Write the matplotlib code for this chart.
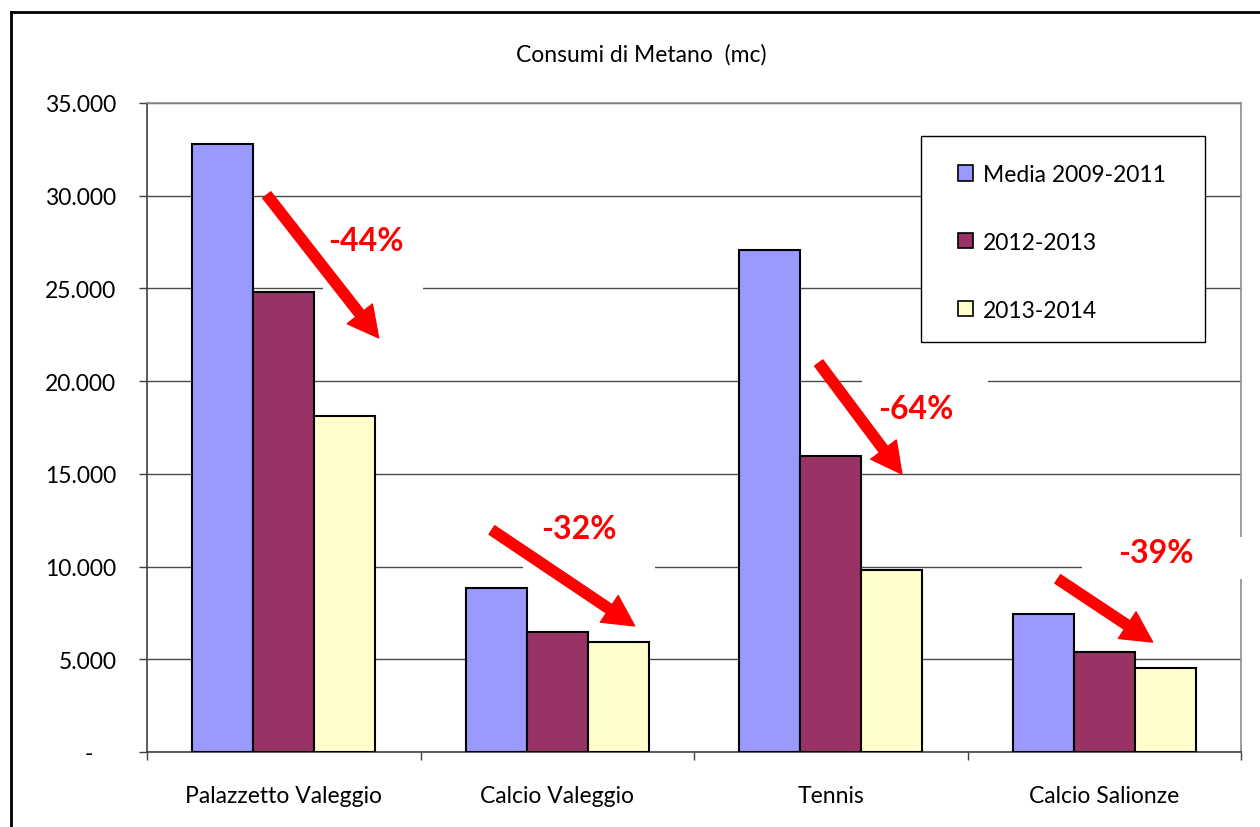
import numpy as np
import matplotlib
matplotlib.use("Agg")
import matplotlib.pyplot as plt
from matplotlib.patches import Rectangle
from matplotlib.lines import Line2D

plt.rcParams['font.family'] = ['Lato', 'DejaVu Sans']

# -----------------------------
# Data
# -----------------------------
categories = ["Palazzetto Valeggio", "Calcio Valeggio", "Tennis", "Calcio Salionze"]
series_names = ["Media 2009-2011", "2012-2013", "2013-2014"]
media_2009_2011 = [32800, 8850, 27050, 7450]
anni_2012_2013 = [24800, 6480, 15950, 5400]
anni_2013_2014 = [18100, 5930, 9800, 4530]
series_colors = ["#9999FF", "#993366", "#FFFFCC"]

y_ticks = [0, 5000, 10000, 15000, 20000, 25000, 30000, 35000]
y_ticklabels = ["-    ", "5.000", "10.000", "15.000", "20.000", "25.000", "30.000", "35.000"]

# percent drop labels with arrows (text pos, arrow tail, arrow tip, white box)
drop_labels = ["-44%", "-32%", "-64%", "-39%"]
drop_text_xy = [(0.30, 27600), (1.08, 12050), (2.31, 18500), (3.19, 10750)]
drop_tail_xy = [(-0.062, 30040), (0.761, 11970), (1.956, 20980), (2.830, 9330)]
drop_tip_xy = [(0.347, 22330), (1.283, 6800), (2.260, 14990), (3.177, 5930)]
drop_box = [(0.143, 24300, 0.365, 5300), (0.874, 9330, 0.482, 4300),
            (2.113, 16900, 0.461, 3600), (2.918, 9330, 0.614, 2250)]

FS = 16.5

# -----------------------------
# Figure
# -----------------------------
fig = plt.figure(figsize=(12.6, 8.28), dpi=100)
ax = fig.add_axes([147 / 1260, 75 / 828, 1094 / 1260, 649 / 828])

x = np.arange(len(categories))
width = 0.223
all_series = [media_2009_2011, anni_2012_2013, anni_2013_2014]
for i, (vals, name, col) in enumerate(zip(all_series, series_names, series_colors)):
    ax.bar(x + (i - 1) * width, vals, width, color=col, edgecolor="black",
           linewidth=1.5, label=name, zorder=3)

ax.set_xlim(-0.5, 3.5)
ax.set_ylim(0, 35000)
ax.set_yticks(y_ticks)
ax.set_yticklabels(y_ticklabels, fontsize=FS)
ax.yaxis.grid(True, color="#4a4a4a", linewidth=1)
ax.set_axisbelow(True)
ax.tick_params(axis="y", direction="out", length=6, width=1, color="#404040", pad=16)

ax.set_xticks(x)
ax.set_xticklabels(categories, fontsize=FS)
ax.set_xticks(np.arange(-0.5, 4.0, 1.0), minor=True)
ax.tick_params(axis="x", which="major", length=0, pad=24)
ax.tick_params(axis="x", which="minor", direction="out", length=6, width=1, color="#404040")

for side in ["left", "bottom"]:
    ax.spines[side].set_color("#404040")
    ax.spines[side].set_linewidth(1.2)
for side in ["top", "right"]:
    ax.spines[side].set_color("#8c8c8c")
    ax.spines[side].set_linewidth(1.2)

fig.text(641 / 1260, 1 - 55 / 828, "Consumi di Metano  (mc)", fontsize=FS,
         ha="center", va="center")

# -----------------------------
# Arrows and percentages
# -----------------------------
for lab, txy, tail, tip, box in zip(drop_labels, drop_text_xy, drop_tail_xy, drop_tip_xy, drop_box):
    ax.add_patch(Rectangle((box[0], box[1]), box[2], box[3], facecolor="white",
                           edgecolor="none", zorder=4, clip_on=False))
    ax.annotate("", xy=tip, xytext=tail,
                arrowprops=dict(arrowstyle="simple,head_width=1.15,head_length=1.1,tail_width=0.37",
                                color="#FF0000", mutation_scale=20, shrinkA=0, shrinkB=0),
                zorder=6)
    ax.text(txy[0], txy[1], lab, color="#FF0000", fontsize=23, fontweight="bold",
            ha="center", va="center", zorder=6)

# -----------------------------
# Legend (frame drawn separately)
# -----------------------------
ax.add_patch(Rectangle(((921 - 147) / 1094, (753 - 343) / 649), 284 / 1094, 206 / 649,
                       transform=ax.transAxes, facecolor="white", edgecolor="black",
                       linewidth=1, zorder=7))
leg = ax.legend(loc="upper left", bbox_to_anchor=((958 - 147) / 1094, (753 - 165) / 649),
                borderaxespad=0, borderpad=0, fontsize=FS, frameon=False,
                labelspacing=2.04, handlelength=0.65, handleheight=0.65, handletextpad=0.44)
leg.set_zorder(8)
for h in leg.legend_handles:
    h.set_linewidth(1.2)

# outer chart border
fig.add_artist(Line2D([11 / 1260, 11 / 1260], [0, 1 - 13 / 828], color="black", linewidth=2))
fig.add_artist(Line2D([11 / 1260, 1], [1 - 13 / 828, 1 - 13 / 828], color="black", linewidth=2))

plt.savefig("out.png", dpi=100)
plt.close()
